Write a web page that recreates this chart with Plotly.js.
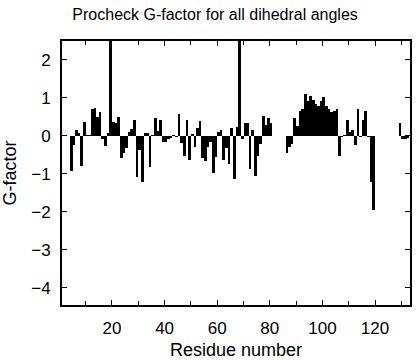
<!DOCTYPE html>
<html>
<head>
<meta charset="utf-8">
<script src="https://cdn.plot.ly/plotly-3.0.1.min.js"></script>
<style>html,body{margin:0;padding:0;background:#fff;}#chart{width:416px;height:360px;}</style>
</head>
<body>
<div id="chart"></div>
<script>
// Residue numbers and their Procheck G-factor (values above 2.5 are clipped by the axis)
const residues = [4,5,6,7,8,9,10,11,12,13,14,15,16,17,18,19,20,21,22,23,24,25,26,27,28,29,30,
  31,32,33,34,35,36,37,38,39,40,41,42,43,44,45,46,47,48,49,50,51,52,53,54,55,56,57,58,59,60,
  61,62,63,64,65,66,67,68,69,70,71,72,73,74,75,76,77,78,79,80,
  86,87,88,89,90,91,92,93,94,95,96,97,98,99,100,101,102,103,104,105,106,107,108,109,110,
  111,112,113,114,115,116,117,118,119,129,130,131,132];
const gfactor = [-0.91,-0.24,0.16,0.07,-0.79,0.36,0.02,0.02,0.71,0.74,0.49,0.62,-0.08,-0.26,0.07,3.5,0.36,0.33,0.51,-0.58,-0.45,-0.32,0.11,0.18,0.41,-1.08,-0.37,
  -1.2,0.07,0.09,-0.82,0.02,0.47,0.14,0.43,-0.15,-0.15,-0.09,-0.06,0.03,-0.02,0.58,-0.18,-0.54,0.43,-0.63,0.04,-0.29,0.21,0.39,-0.57,-0.67,-0.3,-0.15,-0.98,-0.55,0.11,
  0.17,-0.64,-0.32,-0.73,0.2,-1.13,0.23,3.5,-0.08,0.33,0.33,-0.86,0.16,-1.06,-0.52,-0.2,0.52,0.3,0.48,0.34,
  -0.44,-0.3,-0.2,0.47,0.26,0.66,0.7,1.1,0.93,1.05,0.95,0.83,0.78,0.92,1.02,0.78,0.72,0.64,0.66,0.7,-0.52,-0.04,0.02,0.42,0.1,
  0.17,-0.24,0.72,-0.02,0.42,0.66,-0.02,-1.2,-1.94,0.33,-0.08,-0.07,-0.05];
const xTickVals = [20,40,60,80,100,120];
const yTickVals = [-4,-3,-2,-1,0,1,2];

const FONT = 'Liberation Sans, Arial, Helvetica, sans-serif';

const trace = {
  type: 'bar',
  x: residues,
  y: gfactor,
  width: 1,
  offset: 0,
  marker: {color: '#000000', line: {width: 0}},
  hoverinfo: 'x+y'
};

const layout = {
  width: 416, height: 360,
  margin: {l: 62, r: 6, t: 41, b: 55},
  paper_bgcolor: '#ffffff', plot_bgcolor: '#ffffff',
  showlegend: false,
  bargap: 0,
  font: {family: FONT, color: '#000', size: 15},
  title: {
    text: 'Procheck G-factor for all dihedral angles',
    font: {family: FONT, size: 16, color: '#000'},
    xref: 'container', x: 0.517, xanchor: 'center',
    yref: 'container', y: 0.96, yanchor: 'middle'
  },
  xaxis: {
    range: [1, 133.3],
    tickmode: 'array', tickvals: xTickVals,
    ticks: 'inside', ticklen: 5, tickwidth: 1, tickcolor: '#000',
    minor: {dtick: 10, tick0: 0, ticks: 'inside', ticklen: 4, tickwidth: 1, tickcolor: '#000'},
    showgrid: false, zeroline: false,
    showline: true, linecolor: '#000', linewidth: 2, mirror: 'ticks',
    tickfont: {family: FONT, size: 17, color: '#000'},
    ticklabelstandoff: 7,
    title: {text: 'Residue number', font: {family: FONT, size: 18, color: '#000'}, standoff: 6}
  },
  yaxis: {
    range: [-4.45, 2.5],
    tickmode: 'array', tickvals: yTickVals,
    ticks: 'inside', ticklen: 5, tickwidth: 1, tickcolor: '#000',
    showgrid: false, zeroline: false,
    showline: true, linecolor: '#000', linewidth: 2, mirror: 'ticks',
    tickfont: {family: FONT, size: 17, color: '#000'},
    ticklabelstandoff: 6,
    title: {text: 'G-factor', font: {family: FONT, size: 18, color: '#000'}, standoff: 10}
  }
};

Plotly.newPlot('chart', [trace], layout, {displayModeBar: false, staticPlot: true});
</script>
</body>
</html>
